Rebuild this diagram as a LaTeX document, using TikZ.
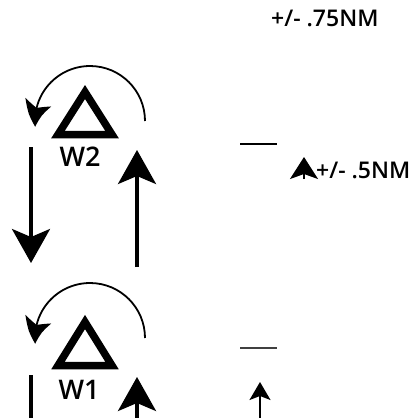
\documentclass[tikz,border=0pt]{standalone}
\usepackage{fontspec}
\setmainfont{Open Sans}[BoldFont={Open Sans Semibold}]
\usetikzlibrary{arrows.meta,bending}
\begin{document}
\begin{tikzpicture}[x=1pt,y=-1pt,
  tri/.style={line width=7.5pt, line join=miter},
  bigarrow/.style={line width=3.5pt, -{Stealth[length=34pt,width=38pt,inset=8pt]}},
  plainline/.style={line width=3.5pt},
  arcarrow/.style={line width=1.8pt, -{Stealth[length=25pt,width=27pt,inset=6pt,bend]}},
  tick/.style={line width=1.8pt},
  thintick/.style={line width=1.5pt, draw=black!75},
  smallarrow/.style={line width=1.5pt, -{Stealth[length=18pt,width=21pt,inset=4pt]}},
  midarrow/.style={line width=1.5pt, -{Stealth[length=22pt,width=28pt,inset=5pt]}},
  lbl/.style={inner sep=0pt, font=\fontsize{23}{26}\selectfont\bfseries},
  wlbl/.style={inner sep=0pt, font=\fontsize{27}{30}\selectfont\bfseries},
]
\useasboundingbox (0,0) rectangle (410,418);
\fill[white] (0,0) rectangle (410,418);

% texts
\node[lbl, anchor=base west] (t75) at (271,26) {+/- .75NM};
\node[lbl, anchor=base west] (t5) at (316,178) {+/- .5NM};
\node[wlbl, anchor=base] (w2) at (80,166) {W2};
\node[wlbl, anchor=base] (w1) at (79,399) {W1};

% triangles
\coordinate (a2) at (85,92);  \coordinate (b2) at (58,134.5); \coordinate (c2) at (112,134.5);
\draw[tri] (a2) -- (b2) -- (c2) -- cycle;
\coordinate (a1) at (85,322); \coordinate (b1) at (58,365.5); \coordinate (c1) at (112,365.5);
\draw[tri] (a1) -- (b1) -- (c1) -- cycle;

% rotation arcs
\coordinate (r2) at (145,121);
\draw[arcarrow] (r2) arc[start angle=0, end angle=-186, radius=55];
\coordinate (r1) at (145,338);
\draw[arcarrow] (r1) arc[start angle=0, end angle=-186, radius=55];

% vertical arrows
\coordinate (ls2) at (31,147); \coordinate (le2) at (31,263);
\draw[bigarrow] (ls2) -- (le2);
\coordinate (rs2) at (137,267); \coordinate (re2) at (137,150);
\draw[bigarrow] (rs2) -- (re2);
\coordinate (ls1) at (31,375); \coordinate (le1) at (31,420);
\draw[plainline] (ls1) -- (le1);
\coordinate (rs1) at (137,420); \coordinate (re1) at (137,377);
\draw[bigarrow] (rs1) -- (re1);

% ticks
\coordinate (k2a) at (240,144); \coordinate (k2b) at (277,144);
\draw[tick] (k2a) -- (k2b);
\coordinate (k1a) at (240,348); \coordinate (k1b) at (277,348);
\draw[thintick] (k1a) -- (k1b);

% small arrows
\coordinate (sa) at (260,420); \coordinate (sb) at (260,382);
\draw[smallarrow] (sa) -- (sb);
\coordinate (ma) at (304,179); \coordinate (mb) at (304,157);
\draw[midarrow] (ma) -- (mb);
\end{tikzpicture}
\end{document}
